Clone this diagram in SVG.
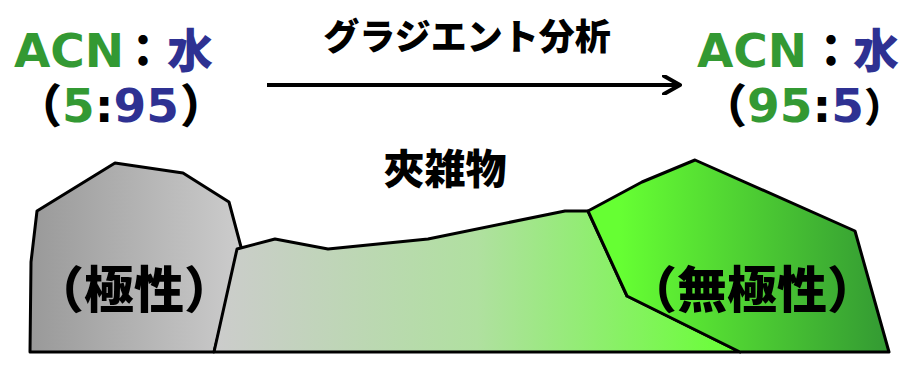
<svg xmlns="http://www.w3.org/2000/svg" width="904" height="366" viewBox="0 0 904 366">
  <style>
    .lat { font-family: "DejaVu Sans", "Noto Sans CJK JP", sans-serif; font-weight: bold; font-size: 47px; }
    .cjk { font-family: "Noto Sans CJK JP", sans-serif; font-weight: 900; }
    .g { fill: #339933; }
    .b { fill: #2e3192; }
    .k { fill: #000000; }
    .shape { stroke: #000; stroke-width: 3; stroke-linejoin: round; }
  </style>
  <defs>
    <linearGradient id="gradPolar" gradientUnits="userSpaceOnUse" x1="30" y1="0" x2="241" y2="0">
      <stop offset="0" stop-color="#999999"/>
      <stop offset="1" stop-color="#cccccc"/>
    </linearGradient>
    <linearGradient id="gradMid" gradientUnits="userSpaceOnUse" x1="214" y1="0" x2="740" y2="0">
      <stop offset="0" stop-color="#cccccc"/>
      <stop offset="0.5" stop-color="#b0e0a0"/>
      <stop offset="1" stop-color="#66ff33"/>
    </linearGradient>
    <linearGradient id="gradNonpolar" gradientUnits="userSpaceOnUse" x1="620" y1="0" x2="889" y2="0">
      <stop offset="0" stop-color="#66ff33"/>
      <stop offset="1" stop-color="#339933"/>
    </linearGradient>
    <marker id="chev" viewBox="0 0 20 20" refX="18" refY="10" markerWidth="20" markerHeight="20" markerUnits="userSpaceOnUse" orient="auto">
      <path d="M2,1 L18,10 L2,19" fill="none" stroke="#000" stroke-width="4" stroke-linecap="round" stroke-linejoin="round"/>
    </marker>
  </defs>

  <!-- solvent ratio, start -->
  <g id="ratio-start">
    <text y="67"><tspan class="lat g" x="14">ACN</tspan><tspan class="cjk k" x="121" font-size="44">：</tspan><tspan class="cjk b" x="167" font-size="46">水</tspan></text>
    <text y="122"><tspan class="cjk k" x="16" font-size="46">（</tspan><tspan class="lat g" x="62">5</tspan><tspan class="lat k">:</tspan><tspan class="lat b">95</tspan><tspan class="cjk k" x="180" font-size="46">）</tspan></text>
  </g>

  <!-- solvent ratio, end -->
  <g id="ratio-end">
    <text y="67"><tspan class="lat g" x="697">ACN</tspan><tspan class="cjk k" x="809" font-size="44">：</tspan><tspan class="cjk b" x="853" font-size="46">水</tspan></text>
    <text y="122"><tspan class="cjk k" x="701" font-size="46">（</tspan><tspan class="lat g" x="747">95</tspan><tspan class="lat k">:</tspan><tspan class="lat b">5</tspan><tspan class="cjk k" x="864" font-size="40">）</tspan></text>
  </g>

  <!-- gradient label -->
  <g id="gradient-label">
    <text class="cjk k" x="467" y="50" font-size="36" text-anchor="middle">グラジエント分析</text>
  </g>

  <!-- connectors -->
  <g id="connectors">
    <line x1="267" y1="85" x2="680" y2="85" stroke="#000" stroke-width="4" marker-end="url(#chev)"/>
  </g>

  <!-- polar compounds -->
  <g id="polar">
    <polygon class="shape" fill="url(#gradPolar)" points="30,352 31,262 37,211 115,163 183,173 229,202 241,247 214,352"/>
    <text class="cjk k" x="134" y="308" font-size="50" text-anchor="middle">（極性）</text>
  </g>

  <!-- impurities -->
  <g id="impurities">
    <polygon class="shape" fill="url(#gradMid)" points="214,352 237,249 275,239 328,249 428,239 565,211 588,211 627,296 740,352"/>
    <text class="cjk k" x="445" y="184" font-size="41" text-anchor="middle">夾雑物</text>
  </g>

  <!-- non-polar compounds -->
  <g id="nonpolar">
    <polygon class="shape" fill="url(#gradNonpolar)" points="588,211 642,182 695,160 855,231 889,352 740,352 627,296"/>
    <text class="cjk k" x="752" y="308" font-size="50" text-anchor="middle">（無極性）</text>
  </g>
</svg>
